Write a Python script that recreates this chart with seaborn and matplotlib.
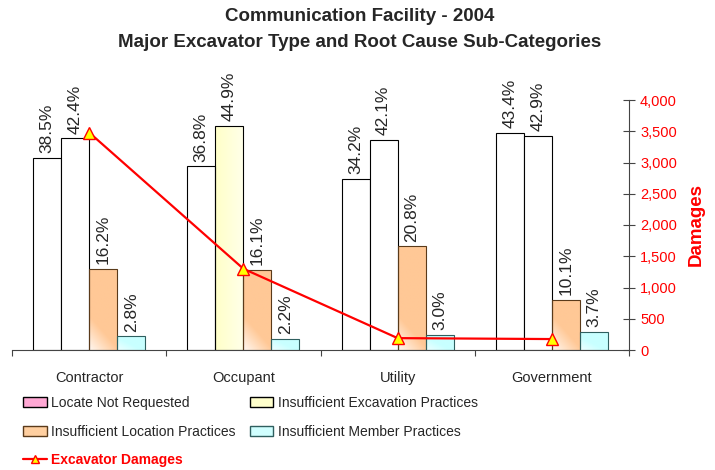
import numpy as np
import pandas as pd
import matplotlib.pyplot as plt
import seaborn as sns
from matplotlib.patches import Patch
from matplotlib.lines import Line2D
from matplotlib.colors import to_rgb

# Data
categories = ['Contractor', 'Occupant', 'Utility', 'Government']
causes = ['Locate Not Requested', 'Insufficient Excavation Practices',
          'Insufficient Location Practices', 'Insufficient Member Practices']
locate_not_requested = [38.5, 36.8, 34.2, 43.4]
insufficient_excavation = [42.4, 44.9, 42.1, 42.9]
insufficient_location = [16.2, 16.1, 20.8, 10.1]
insufficient_member = [2.8, 2.2, 3.0, 3.7]
excavator_damages = [3480, 1300, 190, 175]
damage_ticks = [0, 500, 1000, 1500, 2000, 2500, 3000, 3500, 4000]

sns.set_theme(style='white')
plt.rcParams['font.family'] = ['Liberation Sans', 'DejaVu Sans']

df = pd.DataFrame({
    'category': categories * 4,
    'cause': np.repeat(causes, len(categories)),
    'pct': locate_not_requested + insufficient_excavation
           + insufficient_location + insufficient_member,
})

# legend colours and bar edge colours per series
legend_colors = ['#FFA8D4', '#FFFFCC', '#FFCFA0', '#D0FFFF']
edge_colors = ['#000000', '#000000', '#5A3A1A', '#2F5F5F']

fig, ax = plt.subplots(figsize=(7.15, 4.7), dpi=100)
fig.subplots_adjust(left=12/715, right=629/715, bottom=1-350/470, top=1-100/470)

sns.barplot(data=df, x='category', y='pct', hue='cause', order=categories,
            hue_order=causes, palette=['white'] * 4, saturation=1,
            width=0.727, gap=0, edgecolor='black', linewidth=0.8,
            legend=False, ax=ax)

xs, ys = np.meshgrid(np.linspace(0, 1, 24), np.linspace(0, 1, 64))


def shade(bar, color, kind):
    # gradient fill clipped to the bar
    x, w, h = bar.get_x(), bar.get_width(), bar.get_height()
    yp = ys * h * 5  # pixels from the bar bottom
    if kind == 'warm':
        t = np.clip(0.15 + 0.8 * xs + yp / 40, 0, 1)
    elif kind == 'cool':
        t = np.clip(0.3 + 0.8 * xs + yp / 18, 0, 1)
    else:
        t = np.clip(1 - 0.6 * xs, 0, 1)
    c1 = np.array(to_rgb(color))
    rgb = (1 - t[..., None]) + t[..., None] * c1
    img = ax.imshow(rgb, extent=[x, x + w, 0, h], origin='lower',
                    aspect='auto', interpolation='bilinear', zorder=0.9)
    img.set_clip_path(bar)
    bar.set_facecolor('none')


for i, cont in enumerate(ax.containers):
    for j, bar in enumerate(cont):
        bar.set_edgecolor(edge_colors[i])
        if i == 1 and categories[j] == 'Occupant':
            shade(bar, '#FFFFC8', 'pale')
        elif i == 2:
            shade(bar, '#FFC896', 'warm')
        elif i == 3:
            shade(bar, '#C8FFFF', 'cool')
        cx = bar.get_x() + bar.get_width() / 2
        ax.text(cx, bar.get_height() + 0.9, f"{bar.get_height():.1f}%",
                rotation=90, ha='center', va='bottom', fontsize=12.5)

ax.set_xlim(-0.5, len(categories) - 0.5)
ax.set_ylim(0, 50)
ax.yaxis.set_visible(False)
ax.set_xlabel('')
ax.set_ylabel('')
for s in ['left', 'top', 'right']:
    ax.spines[s].set_visible(False)
ax.spines['bottom'].set_color('#444444')
ax.spines['bottom'].set_linewidth(0.8)
ax.set_xticks(range(len(categories)))
ax.set_xticklabels(categories, fontsize=10.5)
ax.set_xticks(np.arange(len(categories) + 1) - 0.5, minor=True)
ax.tick_params(axis='x', which='major', length=0, pad=15)
ax.tick_params(axis='x', which='minor', bottom=True, length=4,
               width=0.8, color='#444444', direction='out')

# damages on the right-hand axis
ax2 = ax.twinx()
sns.lineplot(x=np.arange(len(categories)), y=excavator_damages, ax=ax2,
             color='red', linewidth=1.6, marker='^', markersize=8,
             markerfacecolor='yellow', markeredgecolor='red',
             markeredgewidth=1, clip_on=False)
ax2.set_ylim(0, 4000)
ax2.set_yticks(damage_ticks)
ax2.set_yticklabels([f"{v:,}" for v in damage_ticks])
ax2.tick_params(axis='y', right=True, labelcolor='red', labelsize=10.5,
                color='#444444', direction='inout', length=8, width=0.8, pad=4)
for s in ['left', 'top', 'bottom']:
    ax2.spines[s].set_visible(False)
ax2.spines['right'].set_color('#444444')
ax2.spines['right'].set_linewidth(0.8)
ax2.set_ylabel('Damages', color='red', fontweight='bold', fontsize=13.5,
               labelpad=8)

fig.text(0.503, 0.984,
         'Communication Facility - 2004\nMajor Excavator Type and Root Cause Sub-Categories',
         ha='center', va='top', fontsize=13.5, fontweight='bold', linespacing=1.7)

patches = [Patch(facecolor=c, edgecolor=e, linewidth=1)
           for c, e in zip(legend_colors, edge_colors)]
dmg = Line2D([], [], color='red', linewidth=1.6, marker='^', markersize=6,
             markerfacecolor='yellow', markeredgecolor='red')
handles = [patches[0], patches[2], dmg, patches[1], patches[3]]
labels = [causes[0], causes[2], 'Excavator Damages', causes[1], causes[3]]
leg = fig.legend(handles, labels, ncol=2, loc='upper left',
                 bbox_to_anchor=(23/715, 1-396/470), frameon=False,
                 fontsize=10, handlelength=1.7, handleheight=0.75,
                 handletextpad=0.35, columnspacing=1.0, labelspacing=1.05,
                 borderpad=0, borderaxespad=0)
leg.get_texts()[2].set_color('red')
leg.get_texts()[2].set_fontweight('bold')

fig.savefig('out.png', dpi=100)
